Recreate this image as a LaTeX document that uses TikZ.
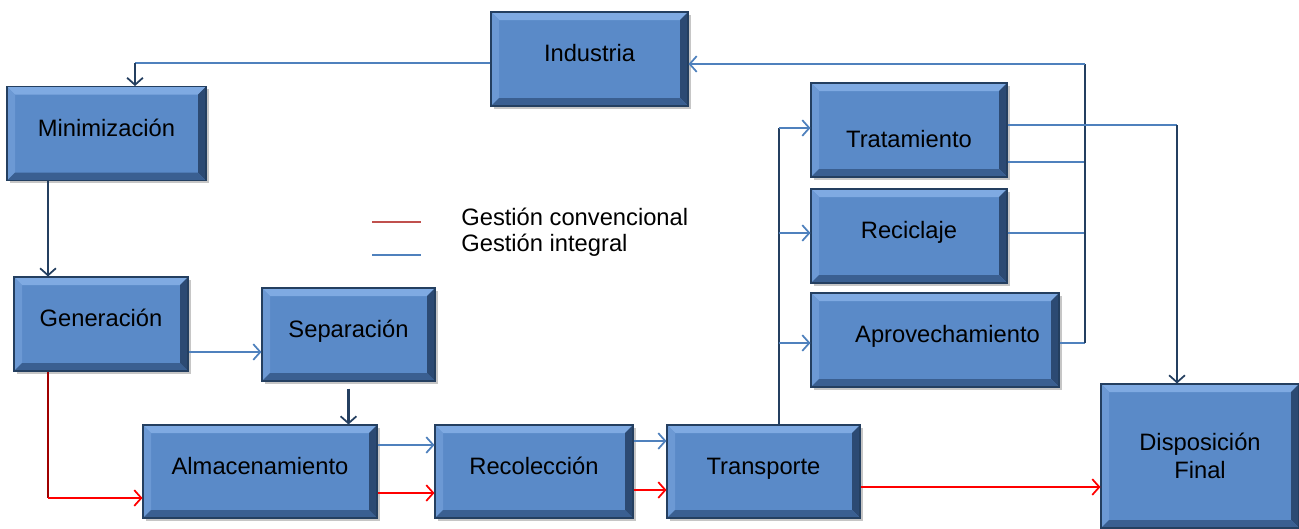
\documentclass[tikz,border=0pt]{standalone}
\usepackage{fontspec}
\setmainfont{Liberation Sans}
\usetikzlibrary{arrows.meta,shadows}

\definecolor{boxface}{HTML}{5A8AC8}
\definecolor{bevtop}{HTML}{7FAAE2}
\definecolor{bevleft}{HTML}{6C99D4}
\definecolor{bevright}{HTML}{2C4A73}
\definecolor{bevbottom}{HTML}{3A5F91}
\definecolor{lineblue}{HTML}{4F81BD}
\definecolor{linenavy}{HTML}{243F60}
\definecolor{legred}{HTML}{C0504D}
\definecolor{darkred}{HTML}{A00000}

\tikzset{
  stagebox/.style={draw=linenavy, line width=0.6pt, fill=boxface,
    minimum height=1.88cm, inner sep=2pt, align=center,
    text height=0.34cm, text depth=0.24cm,
    font=\fontsize{13.5}{16}\selectfont,
    drop shadow={shadow xshift=1.5pt, shadow yshift=-1.5pt, opacity=0.45},
    path picture={
      \coordinate (nw) at (path picture bounding box.north west);
      \coordinate (ne) at (path picture bounding box.north east);
      \coordinate (se) at (path picture bounding box.south east);
      \coordinate (sw) at (path picture bounding box.south west);
      \fill[bevtop] (nw) -- (ne) -- ([shift={(-0.16,-0.16)}]ne) -- ([shift={(0.16,-0.16)}]nw) -- cycle;
      \fill[bevleft] (nw) -- ([shift={(0.16,-0.16)}]nw) -- ([shift={(0.16,0.16)}]sw) -- (sw) -- cycle;
      \fill[bevright] (ne) -- (se) -- ([shift={(-0.16,0.16)}]se) -- ([shift={(-0.16,-0.16)}]ne) -- cycle;
      \fill[bevbottom] (sw) -- ([shift={(0.16,0.16)}]sw) -- ([shift={(-0.16,0.16)}]se) -- (se) -- cycle;
    }},
  tip/.style={-{Straight Barb[length=4pt,width=9pt,line width=1pt]}},
  blueflow/.style={draw=lineblue, line width=1.2pt},
  navyflow/.style={draw=linenavy, line width=1.2pt},
  redflow/.style={draw=red, line width=1.3pt}
}

\begin{document}
\begin{tikzpicture}
  \useasboundingbox (0,0) rectangle (25.98,-10.56);

  % stages
  \node[stagebox, minimum width=3.94cm] (ind) at (11.79,-1.18) {Industria};
  \node[stagebox, minimum width=3.98cm] (mini) at (2.13,-2.67) {Minimización};
  \node[stagebox, minimum width=3.48cm] (gen) at (2.02,-6.48) {Generación};
  \node[stagebox, minimum width=3.46cm, minimum height=1.86cm] (sep) at (6.97,-6.69) {Separación};
  \node[stagebox, minimum width=4.68cm, minimum height=1.86cm] (alm) at (5.20,-9.43) {Almacenamiento};
  \node[stagebox, minimum width=3.96cm, minimum height=1.86cm] (rec) at (10.68,-9.43) {Recolección};
  \node[stagebox, minimum width=3.86cm, minimum height=1.86cm] (tra) at (15.27,-9.43) {Transporte};
  \node[stagebox, minimum width=3.92cm] (trat) at (18.18,-2.60) {\raisebox{-0.3cm}{Tratamiento}};
  \node[stagebox, minimum width=3.92cm] (recic) at (18.18,-4.72) {Reciclaje};
  \node[stagebox, minimum width=4.96cm] (apro) at (18.70,-6.80) {\hspace{0.5cm}Aprovechamiento};
  \node[stagebox, text height=, text depth=, minimum width=3.96cm, minimum height=2.88cm] (disp) at (24.00,-9.12) {Disposición\\Final};

  % legend
  \draw[legred, line width=1pt] (7.44,-4.44) -- (8.42,-4.44);
  \draw[lineblue, line width=1pt] (7.44,-5.10) -- (8.42,-5.10);
  \node[anchor=west, inner sep=0pt, font=\fontsize{13.5}{16}\selectfont] (conv) at (9.22,-4.34) {Gestión convencional};
  \node[anchor=west, inner sep=0pt, font=\fontsize{13.5}{16}\selectfont] (integ) at (9.22,-4.90) {Gestión integral};

  % levels of the connectors
  \coordinate (c1) at (2.70,-1.26);
  \coordinate (c2) at (0.96,0);
  \coordinate (c3) at (0.96,-9.96);
  \coordinate (bus) at (15.58,-2.56);
  \coordinate (lv2) at (0,-4.66);
  \coordinate (lv3) at (0,-6.86);
  \coordinate (back) at (21.70,-1.28);
  \coordinate (c4) at (23.54,-2.50);

  \draw[blueflow] (ind.west |- c1) -- (c1);
  \draw[navyflow, tip] (c1) -- (c1 |- mini.north);
  \draw[navyflow, tip] (mini.south -| c2) -- (gen.north -| c2);
  \draw[blueflow, tip] ([yshift=-0.56cm]gen.east) -- ([yshift=-0.56cm]gen.east -| sep.west);
  \draw[navyflow, tip] ([yshift=-0.14cm]sep.south) -- (sep.south |- alm.north);
  \draw[darkred, line width=1.3pt] (gen.south -| c2) -- (c3);
  \draw[redflow, tip] (c3) -- (alm.west |- c3);

  % conventional and integral chains
  \draw[blueflow, tip] ([yshift=0.53cm]alm.east) -- ([yshift=0.53cm]alm.east -| rec.west);
  \draw[redflow, tip] ([yshift=-0.43cm]alm.east) -- ([yshift=-0.43cm]alm.east -| rec.west);
  \draw[blueflow, tip] ([yshift=0.61cm]rec.east) -- ([yshift=0.61cm]rec.east -| tra.west);
  \draw[redflow, tip] ([yshift=-0.37cm]rec.east) -- ([yshift=-0.37cm]rec.east -| tra.west);
  \draw[redflow, tip] ([yshift=-0.31cm]tra.east) -- ([yshift=-0.31cm]tra.east -| disp.west);

  % from transport to the three options
  \draw[navyflow] (tra.north -| bus) -- (bus);
  \draw[blueflow, tip] (bus) -- (bus -| trat.west);
  \draw[blueflow, tip] (lv2 -| bus) -- (lv2 -| recic.west);
  \draw[blueflow, tip] (lv3 -| bus) -- (lv3 -| apro.west);

  % back to industry
  \draw[blueflow] ([yshift=-0.64cm]trat.east) -- ([yshift=-0.64cm]trat.east -| back);
  \draw[blueflow] (lv2 -| recic.east) -- (lv2 -| back);
  \draw[blueflow] (lv3 -| apro.east) -- (lv3 -| back);
  \draw[navyflow] (lv3 -| back) -- (back);
  \draw[blueflow, tip] (back) -- (ind.east |- back);

  % treatment to final disposal
  \draw[blueflow] ([yshift=0.10cm]trat.east) -- (c4);
  \draw[navyflow, tip] (c4) -- (c4 |- disp.north);
\end{tikzpicture}
\end{document}
